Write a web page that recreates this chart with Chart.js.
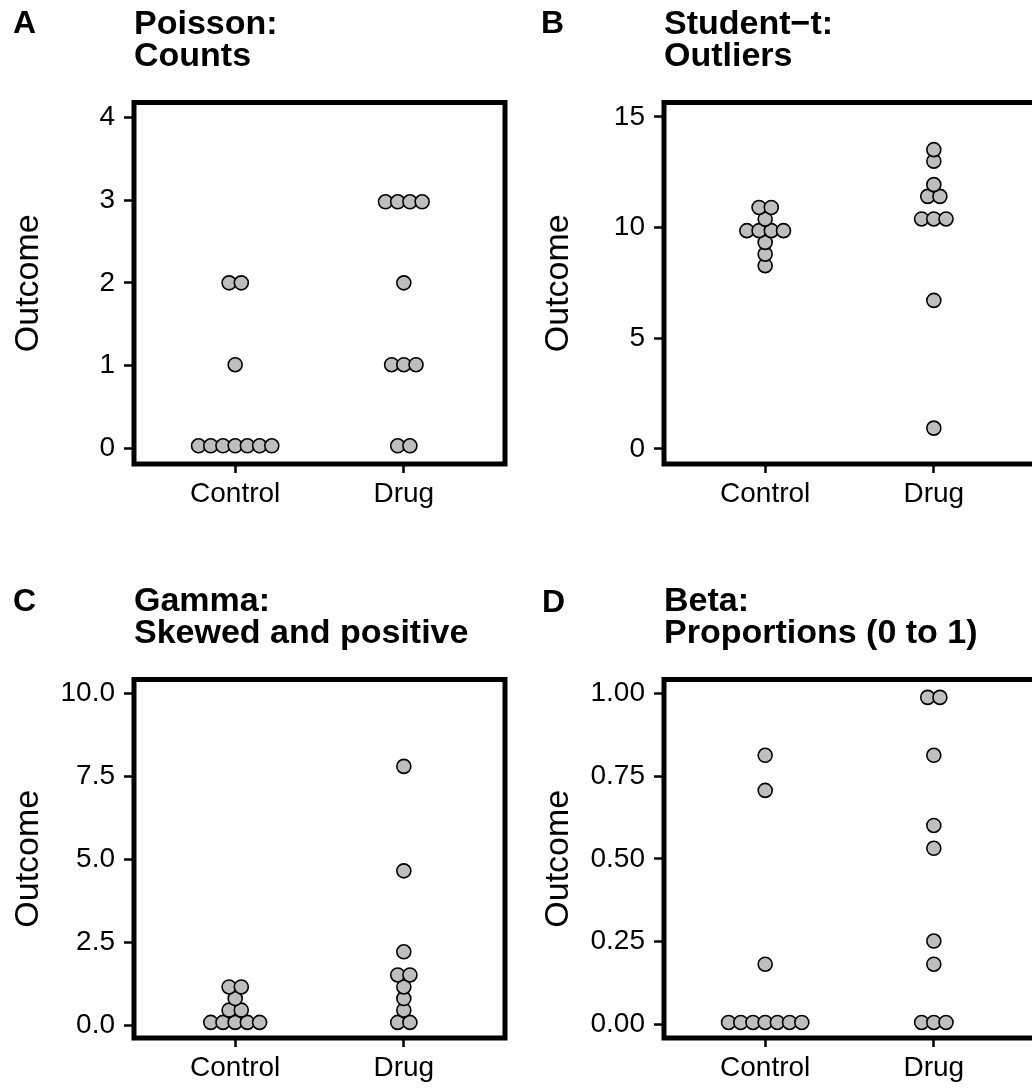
<!DOCTYPE html>
<html><head><meta charset="utf-8">
<script src="https://cdn.jsdelivr.net/npm/chart.js@4/dist/chart.umd.min.js"></script>
<style>
html,body{margin:0;padding:0;background:#fff;overflow:hidden;width:1032px;height:1090px;}
canvas{position:absolute;display:block;}
</style></head><body>
<canvas id="cA" width="520" height="524" style="left:0;top:0"></canvas>
<canvas id="cB" width="520" height="524" style="left:530px;top:0"></canvas>
<canvas id="cC" width="520" height="521" style="left:0;top:577px"></canvas>
<canvas id="cD" width="520" height="521" style="left:530px;top:577px"></canvas>
<script>
// ---- data ----
const groups = ["Control", "Drug"];

const poissonControl = [0.03, 0.03, 0.03, 0.03, 0.03, 0.03, 0.03, 1.01, 2.0, 2.0];
const poissonDrug    = [0.03, 0.03, 1.01, 1.01, 1.01, 2.0, 2.98, 2.98, 2.98, 2.98];
const poissonTicks   = [0, 1, 2, 3, 4];
const poissonLabels  = ["0", "1", "2", "3", "4"];

const studentControl = [8.28, 8.80, 9.33, 9.86, 9.86, 9.86, 9.86, 10.38, 10.91, 10.91];
const studentDrug    = [0.94, 6.71, 10.39, 10.39, 10.39, 11.41, 11.41, 11.94, 13.0, 13.52];
const studentTicks   = [0, 5, 10, 15];
const studentLabels  = ["0", "5", "10", "15"];

const gammaControl = [0.08, 0.08, 0.08, 0.08, 0.08, 0.45, 0.45, 0.80, 1.15, 1.15];
const gammaDrug    = [0.08, 0.08, 0.45, 0.80, 1.15, 1.51, 1.51, 2.21, 4.65, 7.80];
const gammaTicks   = [0, 2.5, 5, 7.5, 10];
const gammaLabels  = ["0.0", "2.5", "5.0", "7.5", "10.0"];

const betaControl = [0.006, 0.006, 0.006, 0.006, 0.006, 0.006, 0.006, 0.182, 0.707, 0.813];
const betaDrug    = [0.006, 0.006, 0.006, 0.182, 0.252, 0.532, 0.601, 0.813, 0.988, 0.988];
const betaTicks   = [0, 0.25, 0.5, 0.75, 1];
const betaLabels  = ["0.00", "0.25", "0.50", "0.75", "1.00"];

// ---- helpers ----
const FAM = '"Liberation Sans", Arial, Helvetica, sans-serif';
const DOT_STEP = 0.0724; // horizontal stacking step in x-axis units

function swarm(values, center) {
  const counts = {};
  values.forEach(v => { counts[v] = (counts[v] || 0) + 1; });
  const seen = {};
  return values.map(v => {
    const n = counts[v];
    const i = seen[v] || 0;
    seen[v] = i + 1;
    return { x: center + (i - (n - 1) / 2) * DOT_STEP, y: v };
  });
}

const framePlugin = {
  id: 'frame',
  afterDraw(chart, args, opts) {
    const { ctx, chartArea: a } = chart;
    ctx.save();
    ctx.lineWidth = 5;
    ctx.strokeStyle = '#000';
    ctx.strokeRect(a.left, a.top, a.right - a.left, a.bottom - a.top);
    ctx.font = 'bold 32px ' + FAM;
    ctx.fillStyle = '#000';
    ctx.textBaseline = 'alphabetic';
    ctx.textAlign = 'left';
    ctx.fillText(opts.letter, opts.lx, opts.ly);
    ctx.restore();
  }
};

function makePanel(id, letter, lx, ly, titleLines, ctrl, drug, tickVals, tickLabels, yMin, yMax) {
  new Chart(document.getElementById(id), {
    type: 'scatter',
    data: {
      datasets: [
        { label: groups[0], data: swarm(ctrl, 1) },
        { label: groups[1], data: swarm(drug, 2) }
      ]
    },
    options: {
      responsive: false,
      animation: false,
      events: [],
      layout: { padding: { left: 0, right: 15, top: 0, bottom: 0 } },
      elements: {
        point: { radius: 7, borderWidth: 1.6, backgroundColor: '#BEBEBE', borderColor: '#000', pointStyle: 'circle' }
      },
      plugins: {
        legend: { display: false },
        tooltip: { enabled: false },
        title: {
          display: true, text: titleLines, align: 'start', fullSize: false, color: '#000',
          font: { family: FAM, size: 34, weight: 'bold', lineHeight: '32px' },
          padding: { top: 9, bottom: 29.5 }
        },
        frame: { letter: letter, lx: lx, ly: ly }
      },
      scales: {
        x: {
          type: 'linear', min: 0.4, max: 2.6,
          afterBuildTicks: s => { s.ticks = groups.map((g, i) => ({ value: i + 1 })); },
          ticks: { callback: v => groups[Math.round(v) - 1], color: '#000', font: { family: FAM, size: 28 }, padding: 4, autoSkip: false, maxRotation: 0 },
          grid: { drawOnChartArea: false, drawTicks: true, tickLength: 9, tickWidth: 2.5, tickColor: '#000' },
          border: { display: false },
          afterFit: s => { s.height = 60; }
        },
        y: {
          type: 'linear', min: yMin, max: yMax,
          afterBuildTicks: s => { s.ticks = tickVals.map(v => ({ value: v })); },
          ticks: { callback: v => tickLabels[tickVals.indexOf(v)], color: '#000', font: { family: FAM, size: 28 }, padding: 9, autoSkip: false },
          grid: { drawOnChartArea: false, drawTicks: true, tickLength: 10, tickWidth: 2.5, tickColor: '#000' },
          border: { display: false },
          title: { display: true, text: 'Outcome', color: '#000', font: { family: FAM, size: 34 }, padding: { top: 8, bottom: 0 } },
          afterFit: s => { s.width = 134; }
        }
      }
    },
    plugins: [framePlugin]
  });
}

makePanel('cA', 'A', 13, 33, ['Poisson:', 'Counts'], poissonControl, poissonDrug, poissonTicks, poissonLabels, -0.19, 4.18);
makePanel('cB', 'B', 11, 33, ['Student\u2212t:', 'Outliers'], studentControl, studentDrug, studentTicks, studentLabels, -0.68, 15.65);
makePanel('cC', 'C', 13, 34, ['Gamma:', 'Skewed and positive'], gammaControl, gammaDrug, gammaTicks, gammaLabels, -0.39, 10.42);
makePanel('cD', 'D', 12, 35, ['Beta:', 'Proportions (0 to 1)'], betaControl, betaDrug, betaTicks, betaLabels, -0.041, 1.042);
</script>
</body></html>
